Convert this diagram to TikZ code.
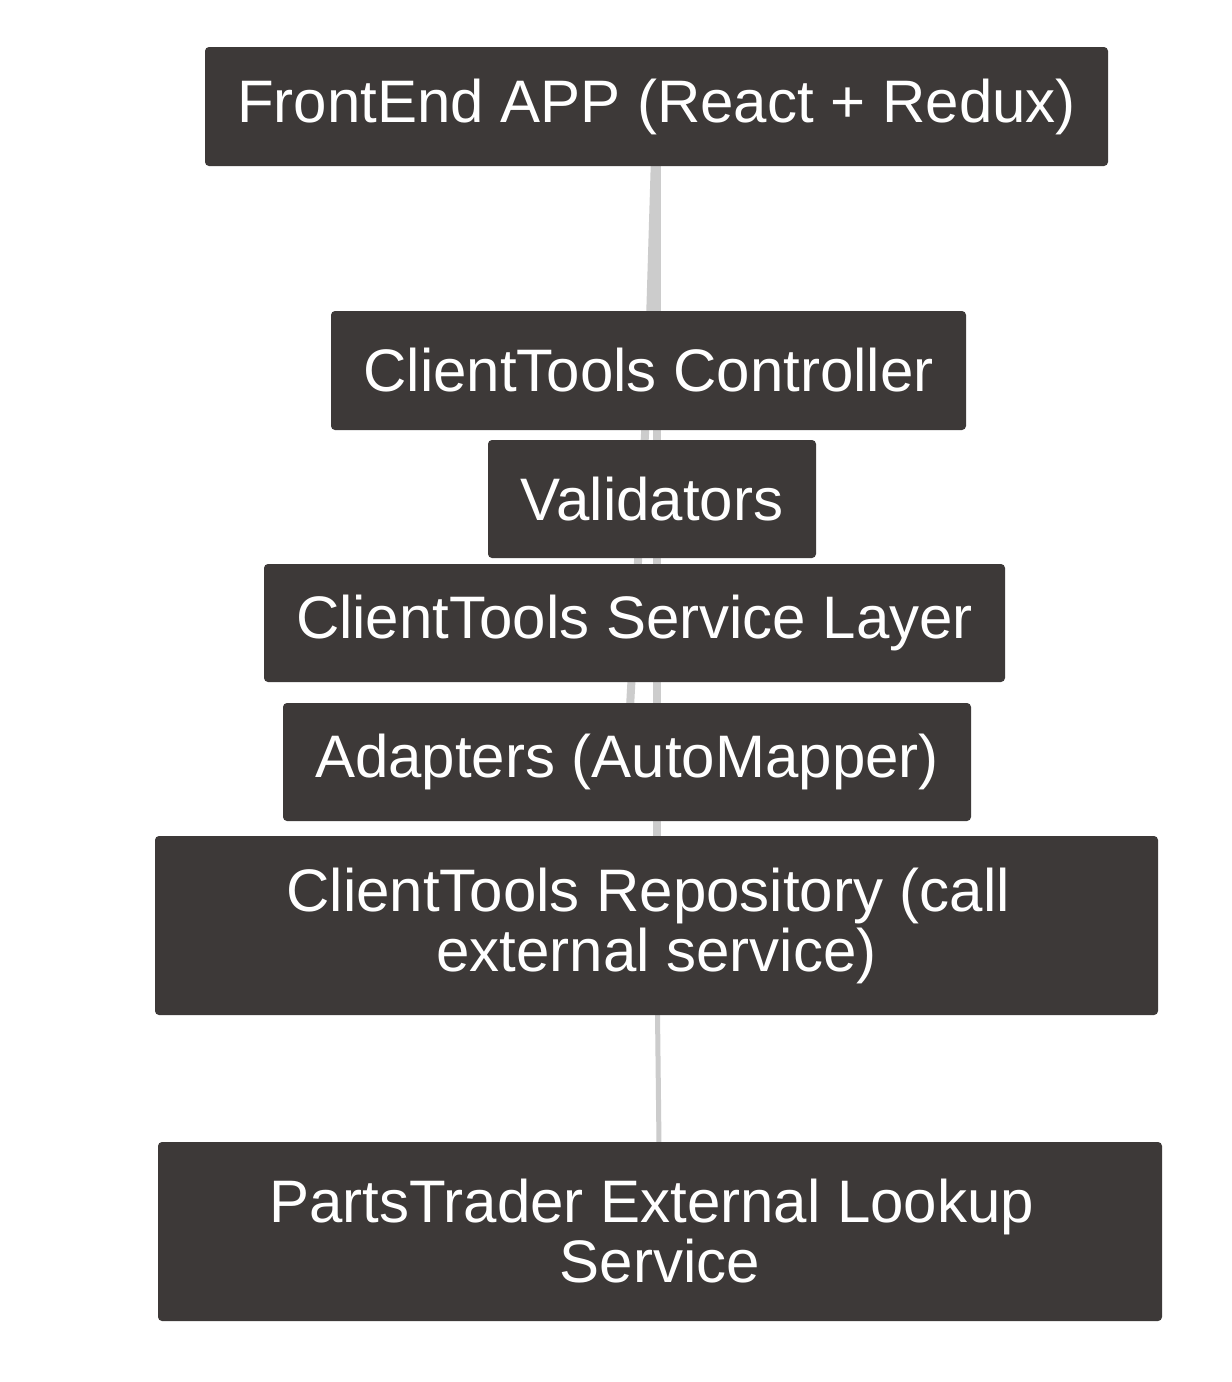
\documentclass[tikz,border=0pt]{standalone}
\usepackage{fontspec}
\setmainfont{Liberation Sans}
\usetikzlibrary{backgrounds}
\definecolor{boxgray}{HTML}{3D3938}
\definecolor{linkgray}{HTML}{CCCCCC}
\tikzset{
  box/.style={fill=boxgray, text=white, rounded corners=2pt, inner sep=0pt,
    align=center, font=\fontsize{30}{30}\selectfont},
  link/.style={draw=linkgray, line width=4pt},
}

\begin{document}
\begin{tikzpicture}[x=0.5pt,y=-0.5pt]
\useasboundingbox (0,0) rectangle (1232,1382);
% layers, top to bottom
\node[box, minimum width=451.5pt, minimum height=59.5pt] (fe) at (656.5,106.5) {FrontEnd APP (React + Redux)};
\node[box, minimum width=317.5pt, minimum height=59.5pt] (ctrl) at (648.5,370.5) {ClientTools Controller};
\node[box, minimum width=164pt, minimum height=59pt] (val) at (652,499) {Validators};
\node[box, minimum width=370.5pt, minimum height=59pt] (svc) at (634.5,623) {ClientTools Service Layer};
\node[box, minimum width=344pt, minimum height=59pt] (adp) at (627,762) {Adapters (AutoMapper)};
\node[box, minimum width=501.5pt, minimum height=89.5pt] (repo) at (656.5,925.5) {ClientTools Repository (call\hspace*{.278em}\\ external service)};
\node[box, minimum width=502pt, minimum height=89.5pt] (pt) at (660,1231.5) {PartsTrader External Lookup\hspace*{.278em}\\ Service};
% links behind the boxes
\begin{scope}[on background layer]
\fill[white] (0,0) rectangle (1232,1382);
\draw[link] (fe.center) -- (ctrl.center);
\draw[link] (fe.center) -- (repo.center);
\draw[link] (ctrl.center) -- (adp.center);
\draw[link, line width=2.5pt] (repo.center) -- (pt.center);
\end{scope}
\end{tikzpicture}
\end{document}
